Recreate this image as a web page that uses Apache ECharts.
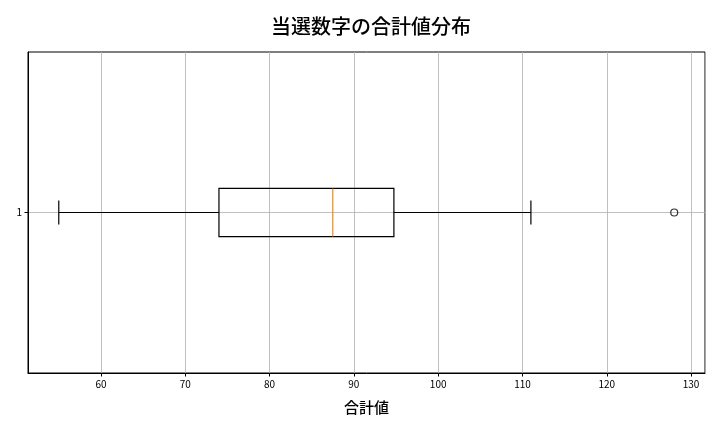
<!DOCTYPE html>
<html><head><meta charset="utf-8">
<script src="https://cdn.jsdelivr.net/npm/echarts@6/dist/echarts.min.js"></script>
<style>html,body{margin:0;padding:0;background:#fff}#c{width:720px;height:432px}</style>
</head><body><div id="c"></div>
<script>
const categories = ['1'];
const whiskerLow = [55];
const q1 = [74];
const median = [87.5];
const q3 = [94.75];
const whiskerHigh = [111];
const outliers = [128];
const xMin = 51.35, xMax = 131.65;

const boxData = categories.map((c, i) => [i, whiskerLow[i], q1[i], median[i], q3[i], whiskerHigh[i]]);
const outlierData = outliers.map(v => [v, 0]);

const chart = echarts.init(document.getElementById('c'), null, {renderer: 'canvas'});
const FONT = '"Noto Sans CJK JP", "Noto Sans", sans-serif';

function renderBox(params, api) {
  const idx = api.value(0);
  const lo = api.coord([api.value(1), idx]);
  const b1 = api.coord([api.value(2), idx]);
  const md = api.coord([api.value(3), idx]);
  const b3 = api.coord([api.value(4), idx]);
  const hi = api.coord([api.value(5), idx]);
  const band = api.size([0, 1])[1];
  const hb = band * 0.15 / 2;
  const hc = band * 0.075 / 2;
  const y = lo[1];
  const ls = {stroke: '#000', lineWidth: 1.2, fill: null};
  return {
    type: 'group',
    children: [
      {type: 'line', shape: {x1: lo[0], y1: y, x2: b1[0], y2: y}, style: ls},
      {type: 'line', shape: {x1: b3[0], y1: y, x2: hi[0], y2: y}, style: ls},
      {type: 'line', shape: {x1: lo[0], y1: y - hc, x2: lo[0], y2: y + hc}, style: ls},
      {type: 'line', shape: {x1: hi[0], y1: y - hc, x2: hi[0], y2: y + hc}, style: ls},
      {type: 'rect', shape: {x: b1[0], y: y - hb, width: b3[0] - b1[0], height: 2 * hb}, style: {stroke: '#000', lineWidth: 1.2, fill: 'rgba(0,0,0,0)'}},
      {type: 'line', shape: {x1: md[0], y1: y - hb, x2: md[0], y2: y + hb}, style: {stroke: '#f08a10', lineWidth: 1.2}}
    ]
  };
}

chart.setOption({
  animation: false,
  backgroundColor: '#fff',
  title: {
    text: '当選数字の合計値分布', left: 366, top: 11, textAlign: 'center',
    textStyle: {fontFamily: FONT, fontSize: 20, fontWeight: 500, color: '#000'}
  },
  grid: {left: 28, right: 15, top: 52, bottom: 59, show: true, borderColor: '#000', borderWidth: 1, backgroundColor: 'transparent'},
  xAxis: {
    type: 'value', min: xMin, max: xMax, splitNumber: 8,
    name: '合計値', nameLocation: 'middle', nameGap: 27,
    nameTextStyle: {fontFamily: FONT, fontSize: 15, fontWeight: 500, color: '#000'},
    axisLine: {show: true, onZero: false, lineStyle: {color: '#000', width: 1}},
    axisTick: {show: true, length: 3.5, lineStyle: {color: '#000'}},
    axisLabel: {fontFamily: FONT, fontSize: 10, color: '#000', margin: 6, showMinLabel: false, showMaxLabel: false,
      formatter: v => (Math.abs(v % 10) < 1e-6 ? String(v) : '')},
    splitLine: {show: true, lineStyle: {color: '#b0b0b0', width: 0.8}}
  },
  yAxis: {
    type: 'category', data: categories,
    axisLine: {show: true, lineStyle: {color: '#000'}},
    axisTick: {show: true, alignWithLabel: true, length: 3.5, lineStyle: {color: '#000'}},
    axisLabel: {fontFamily: FONT, fontSize: 10, color: '#000', margin: 6},
    splitLine: {show: true, alignWithLabel: true, lineStyle: {color: '#b0b0b0', width: 0.8}}
  },
  series: [
    {type: 'custom', renderItem: renderBox, data: boxData, encode: {x: [1, 2, 3, 4, 5], y: 0}, z: 3},
    {type: 'scatter', data: outlierData, symbol: 'circle', symbolSize: 7,
      itemStyle: {color: 'rgba(255,255,255,0)', borderColor: '#000', borderWidth: 1.2}, z: 4}
  ]
});
</script></body></html>
